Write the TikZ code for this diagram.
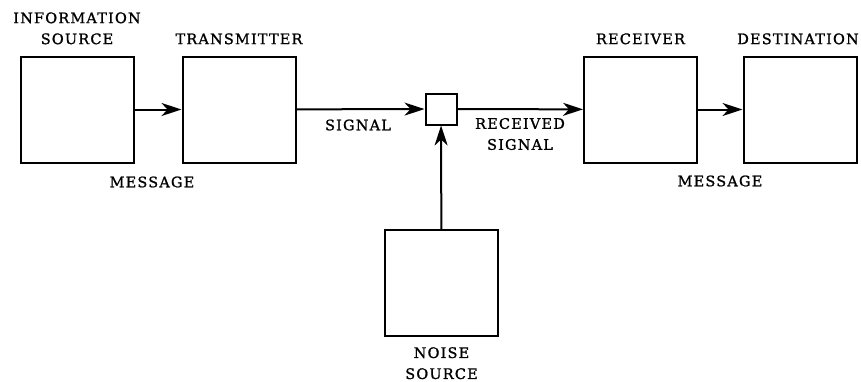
\documentclass[tikz,border=0pt]{standalone}
\usepackage{fontspec}
\newfontfamily\boxfont{DejaVu Serif}[LetterSpace=8,FakeBold=1.2]
\usetikzlibrary{positioning,arrows.meta}

\tikzset{
  block/.style={draw,line width=2pt,minimum width=113pt,minimum height=106pt,inner sep=0pt},
  mixer/.style={draw,line width=2pt,minimum size=31pt,inner sep=0pt},
  caption/.style={font=\boxfont\fontsize{14.5}{21}\selectfont,align=center,inner sep=0pt},
  flow/.style={line width=2pt,-{Stealth[length=20pt,width=13pt,inset=6pt]}}
}

\begin{document}
\begin{tikzpicture}[x=1pt,y=-1pt]
\useasboundingbox (0,0) rectangle (861,381);
\path (77,109.5) node[block] (src) {}
(239,109.5) node[block] (tx) {}
(441,109) node[mixer] (mix) {}
(640.5,109.5) node[block] (rx) {}
(800,109.5) node[block] (dst) {}
(441.5,283) node[block] (noise) {};
% labels
\node[caption,above=11pt of src] (srclbl) {INFORMATION\\SOURCE};
\node[caption,above=11pt of tx] (txlbl) {TRANSMITTER};
\node[caption,above=11pt of rx] (rxlbl) {RECEIVER};
\node[caption,above=11pt of dst,xshift=-2pt] (dstlbl) {DESTINATION};
\node[caption,below=10pt of noise] (noiselbl) {NOISE\\SOURCE};
\path (152,182) node[caption] (msgl) {MESSAGE}
(358,125) node[caption] (sig) {SIGNAL}
(520,134) node[caption] (rsig) {RECEIVED\\SIGNAL}
(720,181) node[caption] (msgr) {MESSAGE};
% connectors
\draw[flow] (src) -- (tx);
\draw[flow] (tx) -- (mix);
\draw[flow] (mix) -- (rx);
\draw[flow] (rx) -- (dst);
\draw[flow] (noise) -- (mix);
\end{tikzpicture}
\end{document}
